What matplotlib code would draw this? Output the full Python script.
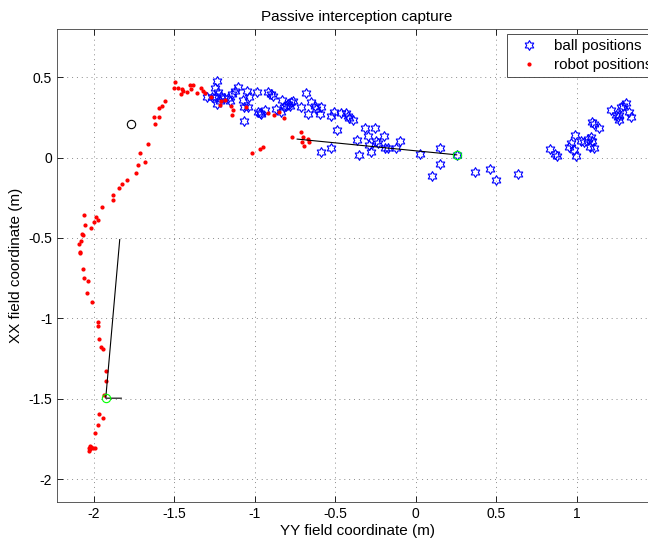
import numpy as np
import matplotlib
matplotlib.use('Agg')
import matplotlib.pyplot as plt
from matplotlib.path import Path

plt.rcParams['font.family'] = ['Liberation Sans', 'DejaVu Sans']
plt.rcParams['axes.unicode_minus'] = False

# ball positions (YY, XX)
ball_y = [-1.234, -1.248, -1.230, -1.211, -1.193, -1.217, -1.242, -1.298, -1.267, -1.238,
          -1.168, -1.157, -1.143, -1.126, -1.106, -1.075, -1.068, -1.048, -1.039, -1.043,
          -1.068, -0.986, -0.981, -0.971, -0.961, -0.940, -0.919, -0.899, -0.888, -0.832,
          -0.868, -0.837, -0.816, -0.795, -0.775, -0.764, -0.784, -0.806, -0.681, -0.712,
          -0.671, -0.650, -0.629, -0.619, -0.598, -0.588, -0.588, -0.526, -0.526, -0.505,
          -0.464, -0.433, -0.422, -0.412, -0.391, -0.491, -0.365, -0.315, -0.253, -0.298,
          -0.247, -0.236, -0.199, -0.292, -0.278, -0.350, -0.194, -0.174, -0.122, -0.095,
          0.029, 0.151, 0.151, 0.101, 0.255, 0.371, 0.461, 0.501, 0.634, 0.834,
          0.865, 0.878, 0.989, 0.965, 0.950, 0.981, 0.996, 1.027, 1.048, 1.068,
          1.089, 1.099, 1.085, 1.110, 1.099, 1.110, 1.141, 1.213, 1.244, 1.255,
          1.265, 1.275, 1.286, 1.306, 1.327, 1.337, 1.265]
ball_x = [0.475, 0.430, 0.405, 0.386, 0.368, 0.355, 0.374, 0.380, 0.380, 0.335,
          0.368, 0.351, 0.397, 0.417, 0.438, 0.360, 0.313, 0.413, 0.376, 0.313,
          0.226, 0.411, 0.282, 0.276, 0.272, 0.293, 0.407, 0.393, 0.386, 0.360,
          0.303, 0.282, 0.313, 0.335, 0.345, 0.355, 0.324, 0.318, 0.403, 0.313,
          0.272, 0.345, 0.324, 0.303, 0.272, 0.313, 0.033, 0.058, 0.257, 0.282,
          0.276, 0.279, 0.257, 0.245, 0.235, 0.174, 0.112, 0.183, 0.187, 0.137,
          0.106, 0.092, 0.133, 0.079, 0.037, 0.019, 0.058, 0.058, 0.058, 0.102,
          0.025, 0.062, -0.039, -0.117, 0.017, -0.092, -0.070, -0.137, -0.100, 0.054,
          0.023, 0.008, 0.143, 0.089, 0.064, 0.048, 0.012, 0.106, 0.095, 0.117,
          0.126, 0.106, 0.064, 0.060, 0.220, 0.210, 0.185, 0.299, 0.268, 0.251,
          0.231, 0.313, 0.324, 0.338, 0.282, 0.251, 0.262]

# robot positions (YY, XX)
robot_y = [-1.561, -1.576, -1.598, -1.627, -1.594, -1.621, -1.666, -1.712, -1.681, -1.727,
           -1.739, -1.795, -1.826, -1.845, -1.882, -1.882, -1.948, -2.060, -1.986, -1.975,
           -2.054, -2.002, -2.020, -2.075, -2.070, -2.083, -2.091, -2.085, -2.087, -2.066,
           -2.062, -2.037, -2.042, -2.012, -1.973, -1.977, -1.969, -1.955, -1.942, -1.927,
           -1.924, -1.938, -1.967, -1.946, -1.973, -1.992, -2.031, -2.023, -2.017, -2.006,
           -1.996, -2.033, -2.027,
           -1.503, -1.495, -1.478, -1.452, -1.458, -1.447, -1.422, -1.406, -1.396, -1.385,
           -1.360, -1.337, -1.323, -1.312, -1.271, -1.209, -1.219, -1.188, -1.151, -1.137,
           -1.143, -1.054, -0.919, -0.878, -0.847, -0.820, -1.019, -0.971, -0.950, -0.768,
           -0.716, -0.698, -0.671, -0.708, -0.696, -0.666]
robot_x = [0.351, 0.324, 0.310, 0.255, 0.251, 0.210, 0.085, 0.029, -0.029, -0.048,
           -0.095, -0.137, -0.164, -0.189, -0.231, -0.264, -0.310, -0.357, -0.372, -0.386,
           -0.419, -0.399, -0.438, -0.475, -0.482, -0.519, -0.538, -0.586, -0.596, -0.693,
           -0.750, -0.766, -0.843, -0.897, -1.024, -1.045, -1.128, -1.176, -1.194, -1.331,
           -1.389, -1.477, -1.597, -1.618, -1.664, -1.716, -1.805, -1.796, -1.801, -1.809,
           -1.809, -1.826, -1.815,
           0.434, 0.469, 0.434, 0.428, 0.397, 0.413, 0.407, 0.449, 0.428, 0.449,
           0.403, 0.434, 0.417, 0.401, 0.380, 0.355, 0.330, 0.360, 0.318, 0.299,
           0.268, 0.313, 0.279, 0.266, 0.282, 0.245, 0.029, 0.054, 0.064, 0.126,
           0.162, 0.126, 0.117, 0.095, 0.069, 0.100]

start_pt = (-1.77, 0.21)
capture_pts_y = [-1.927, 0.255]
capture_pts_x = [-1.497, 0.017]
# heading / direction segments from capture points
seg1_y = [-1.84, -1.927, -1.83]
seg1_x = [-0.51, -1.497, -1.497]
seg2_y = [-0.737, 0.255]
seg2_x = [0.115, 0.017]

# six-pointed star (hexagram) marker
ang = np.pi / 2 + np.arange(12) * np.pi / 6
rad = np.where(np.arange(12) % 2 == 0, 1.0, 1 / np.sqrt(3))
verts = np.column_stack([rad * np.cos(ang), rad * np.sin(ang)])
verts = np.vstack([verts, verts[0]])
hexagram = Path(verts, [Path.MOVETO] + [Path.LINETO] * 11 + [Path.CLOSEPOLY])

fig = plt.figure(figsize=(6.48, 5.38), dpi=100)
ax = fig.add_axes([57 / 648, 36 / 538, 600 / 648, 473 / 538])

ax.plot(ball_y, ball_x, linestyle='none', marker=hexagram, markersize=7,
        markerfacecolor='none', markeredgecolor='blue', markeredgewidth=0.8,
        label='ball positions')
ax.plot(robot_y, robot_x, linestyle='none', marker='o', markersize=2,
        color='red', label='robot positions')
ax.plot(seg1_y, seg1_x, color='black', linewidth=0.8)
ax.plot(seg2_y, seg2_x, color='black', linewidth=0.8)
ax.plot(*start_pt, linestyle='none', marker='o', markersize=6,
        markerfacecolor='none', markeredgecolor='black', markeredgewidth=0.8)
ax.plot(capture_pts_y, capture_pts_x, linestyle='none', marker='o', markersize=6,
        markerfacecolor='none', markeredgecolor='#00ff00', markeredgewidth=0.8)

ax.set_xlim(-2.23, 1.5)
ax.set_ylim(-2.143, 0.8)
ax.set_xticks([-2, -1.5, -1, -0.5, 0, 0.5, 1])
ax.set_xticklabels(['-2', '-1.5', '-1', '-0.5', '0', '0.5', '1'])
ax.set_yticks([-2, -1.5, -1, -0.5, 0, 0.5])
ax.set_yticklabels(['-2', '-1.5', '-1', '-0.5', '0', '0.5'])
ax.tick_params(direction='in', top=True, right=True, labelsize=10, length=4, width=0.6)
ax.grid(True, color='0.55', linestyle=(0, (1, 4)), linewidth=0.7)
for s in ax.spines.values():
    s.set_linewidth(0.6)
    s.set_color('0.25')

ax.set_title('Passive interception capture', fontsize=11, pad=6)
ax.set_xlabel('YY field coordinate (m)', fontsize=11, labelpad=2)
ax.set_ylabel('XX field coordinate (m)', fontsize=11, labelpad=4)

leg = ax.legend(loc='upper left', bbox_to_anchor=(507 / 648, (538 - 34) / 538),
                bbox_transform=fig.transFigure, fontsize=11, frameon=True,
                fancybox=False, framealpha=1, borderpad=0.35, labelspacing=0.3,
                handletextpad=0.5, handlelength=2.2, borderaxespad=0)
leg.get_frame().set_edgecolor('0.2')
leg.get_frame().set_linewidth(0.6)

fig.savefig('out.png', dpi=100)
